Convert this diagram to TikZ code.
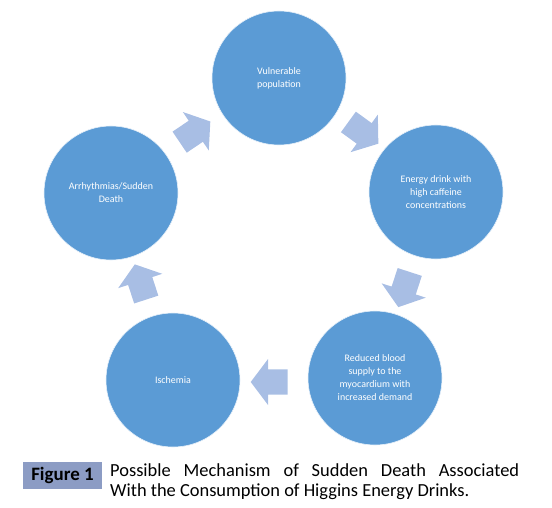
\documentclass[tikz,border=0pt]{standalone}
\usepackage{fontspec}
\setmainfont{Carlito}
\usetikzlibrary{positioning,shapes.arrows,calc}

\definecolor{stepblue}{RGB}{91,155,213}
\definecolor{arrowblue}{RGB}{168,190,228}
\definecolor{figgrey}{RGB}{140,156,196}

\begin{document}
\begin{tikzpicture}[
  x=1bp, y=-1bp,
  stage/.style={
    circle, fill=stepblue, draw=white!85!stepblue, line width=0.6pt,
    minimum size=134bp, inner sep=0pt,
    text=white, align=center,
    font=\fontsize{10}{13}\selectfont
  },
  flow/.style={
    single arrow, fill=arrowblue, draw=none,
    minimum height=37bp, inner xsep=0pt, inner ysep=12.5bp,
    single arrow head extend=10.5bp, single arrow tip angle=106
  },
  figtag/.style={
    rectangle, fill=figgrey, inner sep=0pt,
    minimum width=79bp, minimum height=27bp,
    font=\fontsize{19}{22}\selectfont\bfseries
  },
  capt/.style={
    text width=409bp, align=justify, inner sep=0pt,
    font=\fontsize{18.5}{21}\selectfont
  }
]
\useasboundingbox (0,0) rectangle (552,508);

% ─── Cycle stages ───────────────────────────────────────────
\node[stage] (vul) at (279, 78)  {Vulnerable\\population};
\node[stage] (nrg) at (436,192)  {Energy drink with\\high caffeine\\concentrations};
\node[stage] (red) at (375,378)  {Reduced blood\\supply to the\\myocardium with\\increased demand};
\node[stage] (isc) at (173,380)  {Ischemia};
\node[stage] (arr) at (111,193)  {Arrhythmias/Sudden\\Death};

% ─── Block arrows between stages ────────────────────────────
\node[flow, rotate=-36]  (vn) at ($(vul)!0.5!(nrg)+(2,-5)$) {};
\node[flow, rotate=-108] (nr) at ($(nrg)!0.5!(red)$) {};
\node[flow, rotate=180]  (ri) at ($(red)!0.5!(isc)+(0,3)$) {};
\node[flow, rotate=108]  (ia) at ($(isc)!0.5!(arr)$) {};
\node[flow, rotate=34]   (av) at ($(arr)!0.5!(vul)+(-4,-1)$) {};

% ─── Caption ────────────────────────────────────────────────
\node[figtag] (fig) at (62.5,475.5) {Figure 1};
\node[capt, anchor=north west] (cap) at (110,463)
  {Possible Mechanism of Sudden Death Associated\linebreak
   With the Consumption of Higgins Energy Drinks.};

\end{tikzpicture}
\end{document}
